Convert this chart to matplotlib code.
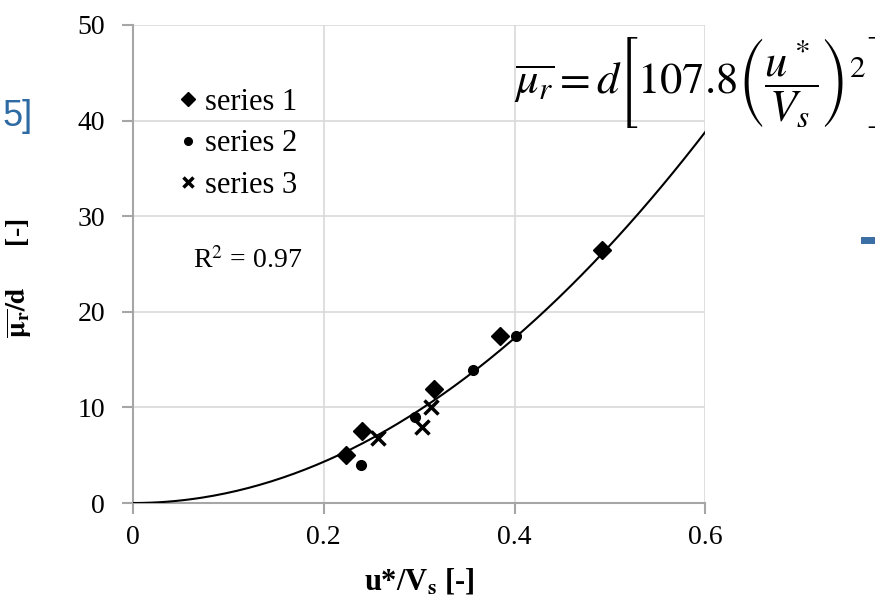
import numpy as np
import matplotlib
matplotlib.use('Agg')
import matplotlib.pyplot as plt
from matplotlib.lines import Line2D

plt.rcParams['font.family'] = ['Liberation Serif', 'DejaVu Serif']
plt.rcParams['mathtext.fontset'] = 'stix'

# data
s1_x = [0.223, 0.240, 0.316, 0.385, 0.492]
s1_y = [5.0, 7.5, 11.9, 17.5, 26.5]
s2_x = [0.239, 0.296, 0.356, 0.402]
s2_y = [4.0, 9.0, 13.9, 17.5]
s3_x = [0.257, 0.303, 0.312]
s3_y = [6.8, 7.9, 10.0]
coef = 107.8
x_ticks = [0, 0.2, 0.4, 0.6]
y_ticks = [0, 10, 20, 30, 40, 50]
labels = ['series 1', 'series 2', 'series 3']

grid_c = '#d9d9d9'
axis_c = '#a6a6a6'

fig = plt.figure(figsize=(8.75, 6.09), dpi=100)
ax = fig.add_axes([0.152, 0.174, 0.654, 0.785])

xf = np.linspace(0, 0.6, 200)
ax.plot(xf, coef * xf**2, color='black', lw=1.5, zorder=3)

ax.plot(s1_x, s1_y, 'D', color='black', ms=9.5, ls='None', zorder=4)
ax.plot(s2_x, s2_y, 'o', color='black', ms=7, ls='None', zorder=4)
ax.plot(s3_x, s3_y, 'x', color='black', ms=10, mew=2.5, ls='None', zorder=4)

ax.set_xlim(0, 0.6)
ax.set_ylim(0, 50)
ax.set_xticks(x_ticks)
ax.set_xticklabels(['0', '0.2', '0.4', '0.6'])
ax.set_yticks(y_ticks)
ax.grid(True, color=grid_c, lw=1.2)
ax.set_axisbelow(True)
for s in ['top', 'right']:
    ax.spines[s].set_visible(False)
for s in ['left', 'bottom']:
    ax.spines[s].set_color(axis_c)
    ax.spines[s].set_linewidth(1.5)
ax.tick_params(axis='both', colors=axis_c, labelcolor='black', labelsize=20,
               length=8, width=1.5)
ax.tick_params(axis='x', pad=8)
ax.tick_params(axis='y', pad=12)

ax.set_xlabel(r'u*/V$_\mathbf{s}$ [-]', fontsize=22, fontweight='bold', labelpad=12)
ax.set_ylabel(r'$\overline{\mathbf{\mu}_\mathbf{r}}\mathbf{/d}$      [-]', fontsize=20,
              fontweight='bold')
ax.yaxis.set_label_coords(-0.173, 0.47)

# legend shows smaller symbols than the plot
handles = [Line2D([], [], marker='D', color='black', ms=7.5, ls='None'),
           Line2D([], [], marker='o', color='black', ms=5.5, ls='None'),
           Line2D([], [], marker='x', color='black', ms=7, mew=2.5, ls='None')]
ax.legend(handles, labels, loc='upper left', bbox_to_anchor=(0.075, 0.868),
          frameon=False, fontsize=22, handlelength=0.8, handletextpad=0.15,
          labelspacing=0.4, borderpad=0, borderaxespad=0)

ax.text(0.063, 25.4, r'R$^2$ = 0.97', fontsize=20, va='center')

fig.text(0.588, 0.865,
         r'$\overline{\mu_r} = d\left[107.8\left(\dfrac{u^*}{V_s}\right)^2\right]$',
         fontsize=32, va='center', ha='left')

# bits of the slide around the chart
fig.text(0.038, 0.808, '5]', fontsize=26, color='#2e6aa3', family='Liberation Sans',
         va='center', ha='right')
fig.add_artist(Line2D([0.987, 1.0], [0.606, 0.606], transform=fig.transFigure,
                      color='#3a6ea5', lw=5))

fig.savefig('out.png', dpi=100)
